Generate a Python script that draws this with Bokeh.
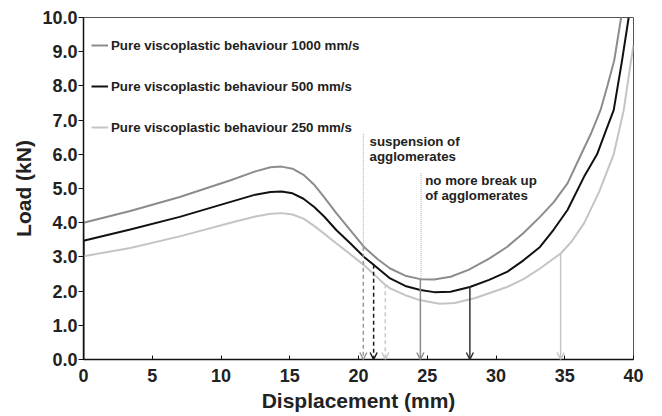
from bokeh.plotting import figure
from bokeh.models import (ColumnDataSource, Legend, LegendItem, Arrow, OpenHead,
                          FixedTicker, NumeralTickFormatter, Range1d)
from bokeh.core.properties import value
from bokeh.embed import file_html
from bokeh.resources import INLINE

FONT = "Liberation Sans"

# ---- data ----
x_1000 = [0, 0, 3.4, 7.0, 10.7, 12.5, 13.6, 14.4, 15.2, 16.0, 16.8, 17.5, 18.4, 19.4, 20.4,
          21.4, 22.3, 23.4, 24.5, 25.5, 26.7, 28.0, 29.5, 30.8, 32.0, 33.2, 34.2, 35.2,
          36.1, 36.9, 37.6, 38.1, 38.6, 39.1]
y_1000 = [0, 4.0, 4.34, 4.75, 5.24, 5.5, 5.62, 5.64, 5.58, 5.4, 5.1, 4.75, 4.27, 3.78, 3.29,
          2.93, 2.66, 2.45, 2.35, 2.34, 2.42, 2.62, 2.95, 3.29, 3.7, 4.17, 4.6, 5.15,
          5.92, 6.6, 7.29, 8.0, 8.75, 10.0]

x_500 = [0, 0, 3.4, 7.0, 10.7, 12.5, 13.6, 14.4, 15.2, 16.0, 16.8, 17.5, 18.4, 19.4, 20.4,
         21.1, 22.3, 23.4, 24.5, 25.5, 26.7, 28.1, 29.5, 30.8, 32.0, 33.2, 34.2, 35.2,
         36.4, 37.35, 38.0, 38.56, 39.17, 39.65]
y_500 = [0, 3.47, 3.80, 4.17, 4.61, 4.82, 4.9, 4.91, 4.86, 4.7, 4.45, 4.18, 3.78, 3.4, 3.0,
         2.77, 2.37, 2.15, 2.03, 1.97, 1.98, 2.12, 2.33, 2.56, 2.9, 3.29, 3.8, 4.37,
         5.34, 6.0, 6.7, 7.29, 8.75, 10.0]

x_250 = [0, 0, 3.4, 7.0, 10.7, 12.5, 13.6, 14.4, 15.2, 16.0, 16.8, 17.5, 18.4, 19.4, 20.4,
         21.9, 22.3, 23.4, 24.5, 25.9, 27.0, 28.5, 30.8, 32.0, 33.2, 34.7, 35.5, 36.4,
         37.5, 38.56, 39.29, 39.77, 40.0]
y_250 = [0, 3.02, 3.26, 3.6, 4.0, 4.18, 4.26, 4.28, 4.24, 4.12, 3.9, 3.68, 3.39, 3.08, 2.76,
         2.2, 2.08, 1.88, 1.73, 1.63, 1.65, 1.8, 2.12, 2.35, 2.66, 3.1, 3.45, 3.98,
         4.9, 6.0, 7.29, 8.6, 9.2]

series_labels = ["Pure viscoplastic behaviour 1000 mm/s",
                 "Pure viscoplastic behaviour 500 mm/s",
                 "Pure viscoplastic behaviour 250 mm/s"]
series_colors = ["#8c8c8c", "#111111", "#c4c4c4"]

# vertical arrows (start on a curve, end on the x axis)
arrow_x = [20.35, 21.1, 21.95, 24.5, 28.1, 34.7]
arrow_y_start = [3.3, 2.77, 2.2, 2.35, 2.12, 3.1]
arrow_dash = ["dashed", "dashed", "dashed", "solid", "solid", "solid"]
arrow_colors = ["#999999", "#1a1a1a", "#c8c8c8", "#8c8c8c", "#333333", "#c4c4c4"]

# dotted guide lines from annotation text down to the curve
dotted_x = [20.35, 24.55]
dotted_top = [6.6, 5.45]
dotted_bottom = [3.3, 2.35]

# annotations
ann_x = [20.8, 24.85]
ann_y = [6.6, 5.45]
ann_text = ["suspension of\nagglomerates", "no more break up\nof agglomerates"]

x_ticks = [0, 5, 10, 15, 20, 25, 30, 35, 40]
y_ticks = [0, 1, 2, 3, 4, 5, 6, 7, 8, 9, 10]

# ---- figure ----
p = figure(width=646, height=416, output_backend="svg", toolbar_location=None,
           x_range=Range1d(0, 40), y_range=Range1d(0, 10),
           min_border_left=83, min_border_right=13, min_border_top=17, min_border_bottom=57)
p.background_fill_color = "white"
p.border_fill_color = "white"
p.outline_line_color = "#555555"
p.outline_line_width = 1
p.grid.visible = False

renderers = []
for xs, ys, c in zip([x_1000, x_500, x_250], [y_1000, y_500, y_250], series_colors):
    r = p.line(xs, ys, line_color=c, line_width=2)
    renderers.append(r)

# dotted guides
p.segment(x0=dotted_x, y0=dotted_top, x1=dotted_x, y1=dotted_bottom,
          line_color="#aaaaaa", line_width=1, line_dash="1 1")

# arrows
for ax, ay, dash, col in zip(arrow_x, arrow_y_start, arrow_dash, arrow_colors):
    p.add_layout(Arrow(x_start=ax, y_start=ay, x_end=ax, y_end=0,
                       line_color=col, line_width=1.5,
                       line_dash="4 3" if dash == "dashed" else "solid",
                       end=OpenHead(size=7, line_color=col, line_width=1.5)))

# annotations
p.text(x=ann_x, y=ann_y, text=ann_text, text_font=value(FONT), text_font_style="bold",
       text_font_size="13.3px", text_color="#222222", text_baseline="top", text_align="left",
       text_line_height=1.0)

legend = Legend(items=[LegendItem(label=l, renderers=[r]) for l, r in zip(series_labels, renderers)],
                location=(8, 222), margin=0, padding=0, spacing=21,
                glyph_width=17, glyph_height=20, label_height=20, label_standoff=3,
                label_text_font=FONT, label_text_font_style="bold",
                label_text_font_size="13.3px", label_text_color="#222222",
                border_line_color=None, background_fill_alpha=0)
p.add_layout(legend)

# axes
p.xaxis.ticker = FixedTicker(ticks=x_ticks)
p.yaxis.ticker = FixedTicker(ticks=y_ticks)
p.yaxis.formatter = NumeralTickFormatter(format="0.0")
for ax in (p.xaxis, p.yaxis):
    ax.axis_line_color = "#111111"
    ax.axis_line_width = 1.5
    ax.major_tick_line_color = "#111111"
    ax.minor_tick_line_color = None
    ax.major_label_text_font = FONT
    ax.major_label_text_font_style = "bold"
    ax.major_label_text_font_size = "18px"
    ax.major_label_text_color = "#222222"
    ax.axis_label_text_font = FONT
    ax.axis_label_text_font_style = "bold"
    ax.axis_label_text_font_size = "21px"
    ax.axis_label_text_color = "#222222"

p.xaxis.major_tick_in = 4
p.xaxis.major_tick_out = 0
p.xaxis.major_label_standoff = 9
p.xaxis.axis_label = "Displacement (mm)"
p.xaxis.axis_label_standoff = 4

p.yaxis.major_tick_in = 0
p.yaxis.major_tick_out = 5
p.yaxis.major_label_standoff = 1
p.yaxis.axis_label = "Load (kN)"
p.yaxis.axis_label_standoff = 4

open("out.html", "w").write(file_html(p, INLINE))
